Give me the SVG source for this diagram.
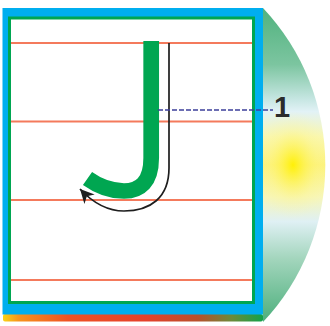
<svg xmlns="http://www.w3.org/2000/svg" width="330" height="326" viewBox="0 0 330 326">
  <defs>
    <linearGradient id="discLin" x1="0" y1="0" x2="0" y2="1">
      <stop offset="0" stop-color="#50b27e"/>
      <stop offset="0.18" stop-color="#7cc5a0"/>
      <stop offset="0.29" stop-color="#c6e6e2"/>
      <stop offset="0.33" stop-color="#e2f2f6"/>
      <stop offset="0.41" stop-color="#f9f7b0"/>
      <stop offset="0.5" stop-color="#fcf27a"/>
      <stop offset="0.6" stop-color="#f7f6b8"/>
      <stop offset="0.68" stop-color="#dff0f4"/>
      <stop offset="0.8" stop-color="#a2d5bc"/>
      <stop offset="1" stop-color="#4caf7c"/>
    </linearGradient>
    <radialGradient id="glow" cx="293" cy="165" r="45" gradientUnits="userSpaceOnUse" gradientTransform="translate(293 165) scale(0.85 1.2) translate(-293 -165)">
      <stop offset="0" stop-color="#fff000" stop-opacity="0.95"/>
      <stop offset="0.3" stop-color="#fff23a" stop-opacity="0.6"/>
      <stop offset="0.65" stop-color="#fff580" stop-opacity="0.25"/>
      <stop offset="1" stop-color="#fff6a0" stop-opacity="0"/>
    </radialGradient>
    <linearGradient id="strip" x1="0" y1="0" x2="1" y2="0">
      <stop offset="0" stop-color="#f9d316"/>
      <stop offset="0.06" stop-color="#f7941d"/>
      <stop offset="0.25" stop-color="#ef5224"/>
      <stop offset="0.55" stop-color="#e5412b"/>
      <stop offset="0.75" stop-color="#b8502c"/>
      <stop offset="0.88" stop-color="#6c8a3a"/>
      <stop offset="1" stop-color="#12a24a"/>
    </linearGradient>
    <marker id="arrow" markerUnits="userSpaceOnUse" markerWidth="18" markerHeight="18" viewBox="-15 -9 17 18" refX="0" refY="0" orient="auto">
      <path d="M0,0 L-14,-7 L-10,0 L-14,7 Z" fill="#1e1e1e"/>
    </marker>
    <style>
      .rule { stroke: #f47a5c; stroke-width: 2; }
      .jstroke { fill: none; stroke: #00a651; stroke-width: 15.7; stroke-linecap: butt; stroke-linejoin: round; }
      .guide { fill: none; stroke: #1e1e1e; stroke-width: 1.7; }
      .dash { stroke: #3d3f9a; stroke-width: 1.6; stroke-dasharray: 5 2; }
      .label { font-family: "Liberation Sans", Arial, sans-serif; font-weight: bold; font-size: 29px; fill: #2b2b2b; }
    </style>
  </defs>

  <rect width="330" height="326" fill="#ffffff"/>

  <g id="disc">
    <path d="M263,8 A229,229 0 0 1 263,322 Z" fill="url(#discLin)"/>
    <path d="M263,8 A229,229 0 0 1 263,322 Z" fill="url(#glow)"/>
  </g>

  <g id="frame">
    <rect x="3" y="314" width="260" height="7.5" rx="2" fill="url(#strip)"/>
    <rect x="2.5" y="8" width="260.5" height="306.5" fill="#00aeef"/>
    <rect x="8" y="16.5" width="247" height="287.5" fill="#00a651"/>
    <rect x="11" y="19.5" width="241" height="281.5" fill="#ffffff"/>
  </g>

  <g id="rules">
    <line class="rule" x1="11" y1="43" x2="252" y2="43"/>
    <line class="rule" x1="11" y1="121.5" x2="252" y2="121.5"/>
    <line class="rule" x1="11" y1="200" x2="252" y2="200"/>
    <line class="rule" x1="11" y1="280" x2="252" y2="280"/>
  </g>

  <g id="letter-J">
    <path class="jstroke" d="M151.2,41 V158 C151.2,182 140,191 124,191 C111,191 98,186 87.5,178.5"/>
  </g>

  <g id="connectors">
    <path class="guide" d="M169,43 V168 C169,198 150,211 124,211 C108,211 94,204 80,189" marker-end="url(#arrow)"/>
    <line class="dash" x1="158" y1="110" x2="273" y2="110"/>
  </g>

  <g id="label-1">
    <text class="label" x="274" y="117">1</text>
  </g>
</svg>
